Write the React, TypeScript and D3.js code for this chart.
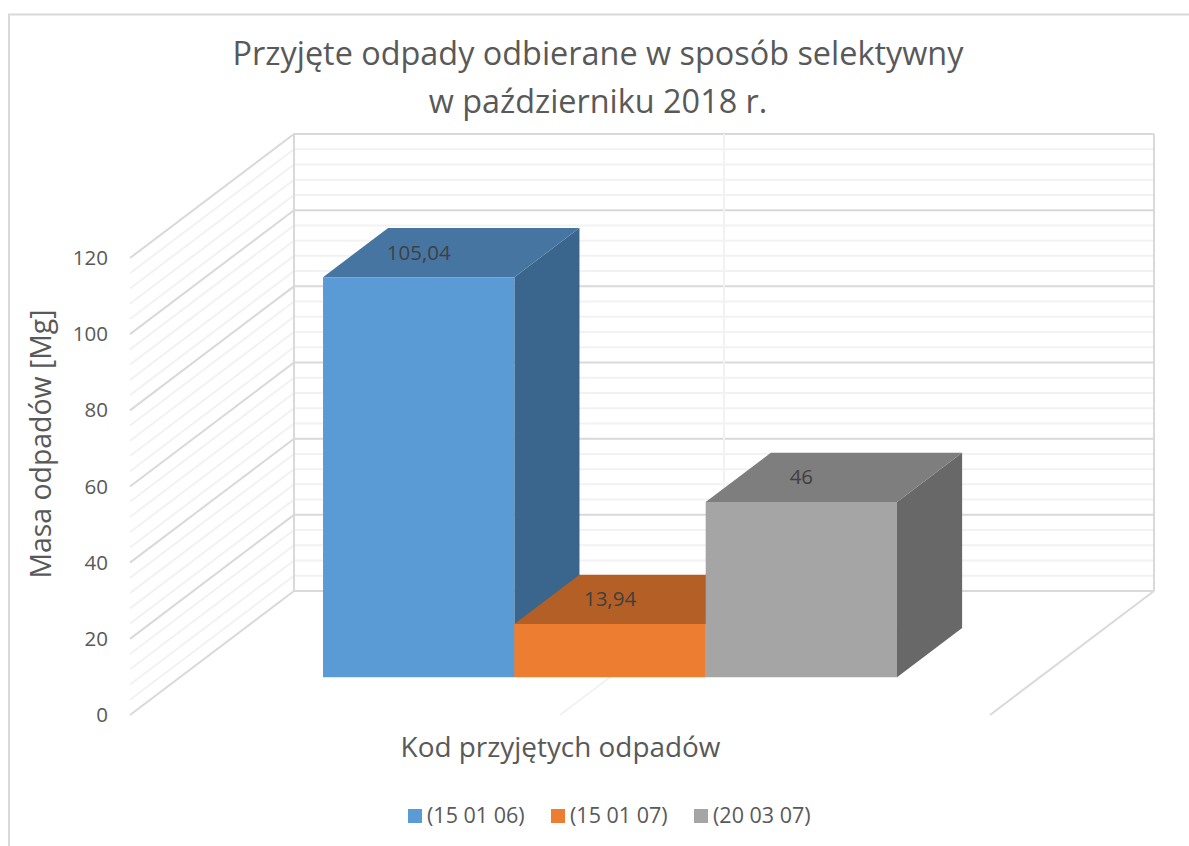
import * as d3 from 'd3';
import { useEffect, useRef } from 'react';

const titleLines = ['Przyjęte odpady odbierane w sposób selektywny', 'w październiku 2018 r.'];
const yAxisTitle = 'Masa odpadów [Mg]';
const xAxisTitle = 'Kod przyjętych odpadów';

const seriesNames = ['(15 01 06)', '(15 01 07)', '(20 03 07)'];
const seriesValues = [105.04, 13.94, 46];
const seriesLabels = ['105,04', '13,94', '46'];
const frontColors = ['#5b9bd5', '#ed7d31', '#a5a5a5'];
const topColors = ['#4675a2', '#b45f25', '#7e7e7e'];
const sideColors = ['#3a658d', '#9c5120', '#686868'];

const majorTicks = [0, 20, 40, 60, 80, 100, 120];
const minorTicks = d3.range(0, 121, 4).filter((v) => v % 20 !== 0);

const WIDTH = 1189;
const HEIGHT = 846;

export default function App() {
  const ref = useRef<SVGSVGElement | null>(null);

  useEffect(() => {
    const svg = d3.select(ref.current);
    svg.selectAll('*').remove();

    const font = '"Open Sans", sans-serif';
    const wall = { left: 294, right: 1154, top: 134, bottom: 591 };
    // oblique offset of the whole floor depth, back wall to front edge
    const depth = { dx: -164, dy: 124 };

    const y = d3.scaleLinear().domain([0, 120]).range([wall.bottom, wall.top]);
    const x = d3
      .scaleBand<string>()
      .domain(seriesNames)
      .range([wall.left + 143, wall.right - 143]);
    // 0 = back wall, 1 = front edge of the floor
    const barBack = 0.298;
    const barFront = 0.695;

    const project = (px: number, value: number, d: number): [number, number] => [
      px + depth.dx * d,
      y(value) + depth.dy * d,
    ];
    const poly = d3.line();

    // chart frame
    svg
      .append('path')
      .attr('d', `M9,846V14.5H${WIDTH}`)
      .attr('fill', 'none')
      .attr('stroke', '#d9d9d9')
      .attr('stroke-width', 2);

    const walls = svg.append('g').attr('fill', 'none');

    const drawLevel = (v: number, stroke: string) => {
      walls
        .append('path')
        .attr('d', poly([[wall.left + depth.dx, y(v) + depth.dy], [wall.left, y(v)], [wall.right, y(v)]]))
        .attr('stroke', stroke)
        .attr('stroke-width', 2);
    };
    minorTicks.forEach((v) => drawLevel(v, '#f2f2f2'));
    majorTicks.forEach((v) => drawLevel(v, '#d9d9d9'));

    // back wall verticals and floor edges
    const midX = (wall.left + wall.right) / 2;
    walls
      .append('line')
      .attr('x1', midX).attr('x2', midX)
      .attr('y1', wall.top).attr('y2', wall.bottom)
      .attr('stroke', '#f2f2f2').attr('stroke-width', 2);
    walls
      .append('line')
      .attr('x1', midX).attr('y1', wall.bottom)
      .attr('x2', midX + depth.dx).attr('y2', wall.bottom + depth.dy)
      .attr('stroke', '#f2f2f2').attr('stroke-width', 2);
    [wall.left, wall.right].forEach((px) => {
      walls
        .append('line')
        .attr('x1', px).attr('x2', px)
        .attr('y1', wall.top).attr('y2', wall.bottom)
        .attr('stroke', '#d9d9d9').attr('stroke-width', 2);
    });
    walls
      .append('line')
      .attr('x1', wall.right).attr('y1', wall.bottom)
      .attr('x2', wall.right + depth.dx).attr('y2', wall.bottom + depth.dy)
      .attr('stroke', '#d9d9d9').attr('stroke-width', 2);

    // bars, left to right so each one covers the previous side face
    seriesNames.forEach((name, i) => {
      const x0 = x(name)!;
      const x1 = x0 + x.bandwidth();
      const v = seriesValues[i];
      const g = svg.append('g');
      g.append('path')
        .attr('d', poly([project(x1, 0, barFront), project(x1, 0, barBack), project(x1, v, barBack), project(x1, v, barFront)]) + 'Z')
        .attr('fill', sideColors[i]);
      g.append('path')
        .attr('d', poly([project(x0, v, barFront), project(x1, v, barFront), project(x1, v, barBack), project(x0, v, barBack)]) + 'Z')
        .attr('fill', topColors[i]);
      g.append('path')
        .attr('d', poly([project(x0, 0, barFront), project(x1, 0, barFront), project(x1, v, barFront), project(x0, v, barFront)]) + 'Z')
        .attr('fill', frontColors[i]);
    });

    // value labels: centred over the front face, vertically on the top face
    seriesNames.forEach((name, i) => {
      const cx = x(name)! + x.bandwidth() / 2;
      const lx = project(cx, seriesValues[i], barFront)[0];
      const ly = project(cx, seriesValues[i], (barFront + barBack) / 2)[1];
      svg
        .append('text')
        .attr('x', lx)
        .attr('y', ly + 7)
        .attr('text-anchor', 'middle')
        .attr('font-family', font)
        .attr('font-size', 20.5)
        .attr('fill', '#404040')
        .text(seriesLabels[i]);
    });

    // value axis labels
    majorTicks.forEach((v) => {
      svg
        .append('text')
        .attr('x', 108)
        .attr('y', y(v) + depth.dy + 7)
        .attr('text-anchor', 'end')
        .attr('font-family', font)
        .attr('font-size', 20.5)
        .attr('fill', '#595959')
        .text(v);
    });

    svg
      .append('g')
      .selectAll('text')
      .data(titleLines)
      .enter()
      .append('text')
      .attr('x', 598)
      .attr('y', (_, i) => 65 + i * 48)
      .attr('text-anchor', 'middle')
      .attr('font-family', font)
      .attr('font-size', 32.4)
      .attr('fill', '#595959')
      .text((d) => d);

    svg
      .append('text')
      .attr('transform', 'translate(51,444) rotate(-90)')
      .attr('text-anchor', 'middle')
      .attr('font-family', font)
      .attr('font-size', 28.4)
      .attr('fill', '#595959')
      .text(yAxisTitle);

    svg
      .append('text')
      .attr('x', 560.5)
      .attr('y', 757)
      .attr('text-anchor', 'middle')
      .attr('font-family', font)
      .attr('font-size', 27.9)
      .attr('fill', '#595959')
      .text(xAxisTitle);

    // legend
    const legendX = d3.scalePoint<string>().domain(seriesNames).range([408, 694]);
    const legend = svg
      .append('g')
      .selectAll('g')
      .data(seriesNames)
      .enter()
      .append('g')
      .attr('transform', (d) => `translate(${legendX(d)},809)`);
    legend
      .append('rect')
      .attr('width', 14)
      .attr('height', 14)
      .attr('fill', (_, i) => frontColors[i]);
    legend
      .append('text')
      .attr('x', 19)
      .attr('y', 14)
      .attr('font-family', font)
      .attr('font-size', 21.5)
      .attr('fill', '#595959')
      .text((d) => d);
  }, []);

  return (
    <svg
      ref={ref}
      width={WIDTH}
      height={HEIGHT}
      style={{ position: 'absolute', left: 0, top: 0, background: '#fff' }}
    />
  );
}
